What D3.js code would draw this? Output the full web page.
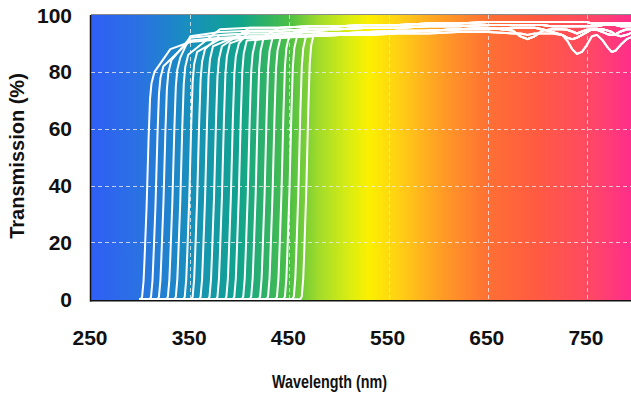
<!DOCTYPE html>
<html>
<head>
<meta charset="utf-8">
<script src="https://cdn.jsdelivr.net/npm/d3@7"></script>
<style>
  body { margin: 0; background: #fff; }
  svg { display: block; font-family: "Liberation Sans", Arial, sans-serif; }
</style>
</head>
<body>
<svg id="chart" width="631" height="395"></svg>
<script>
// axis ticks
const xTicks = [250, 350, 450, 550, 650, 750];
const yTicks = [0, 20, 40, 60, 80, 100];
const gridX = [350, 450, 550, 650, 750];
const gridY = [20, 40, 60, 80];

// spectrum background (wavelength -> colour)
const bgWavelengths = [250, 300, 350, 400, 450, 480, 510, 530, 560, 600, 650, 700, 750, 800];
const bgColors = ['#2f5ff5', '#2a72e2', '#1790bc', '#10a48c', '#4cbf44', '#a2dc2a', '#d9ed12', '#fbf000',
  '#ffd014', '#ffa024', '#ff7034', '#ff5a42', '#ff4a62', '#ff2a90'];

// 50% cut-on wavelength of each long-pass filter (nm)
const cutOn = [307, 316, 324, 333, 341, 350, 358, 366, 375, 383, 392, 400, 409, 417, 426, 434, 443, 451, 460, 468];
// transmission reached just after the edge (%)
const shoulder = [80, 82, 84, 85, 86, 87, 88, 89, 89, 90, 90, 91, 91, 92, 92, 92, 93, 93, 93, 94];
// which plateau trace each filter follows
const profileOf = [4, 3, 2, 1, 0, 4, 2, 1, 0, 3, 1, 4, 0, 2, 1, 0, 4, 1, 2, 0];

// shape of the steep edge: offset from cut-on (nm) and fraction of shoulder
const scanStart = 299;
const edgeOffset = [-7, -5.5, -4, -3, -1, 1, 2.5, 4, 7];
const edgeLevel = [0, 0.01, 0.08, 0.18, 0.4, 0.7, 0.88, 0.95, 1];

// plateau traces (%)
const plateauX = [330, 350, 380, 410, 440, 470, 500, 530, 560, 590, 620, 650, 675, 683, 690, 697, 705, 715,
  725, 730, 735, 740, 745, 750, 755, 760, 766, 771, 775, 779, 784, 790, 800];
const plateau = [
  [92, 93.5, 95, 95.5, 95.5, 96, 96, 96.5, 96.5, 97, 97, 97.5,
    97.5, 97.5, 97.5, 97.5, 97.5, 97.5, 97.5, 97.5, 97.5, 97.5, 97.5, 97.5, 97, 97, 97, 97, 97, 97, 97, 97, 97],
  [91, 92.5, 94, 94.5, 94.5, 95, 95, 95.5, 95.5, 96, 96, 96.5,
    96.5, 96.5, 96.5, 96.5, 96.5, 96, 96, 96, 96, 96, 96, 96, 96, 96, 96.5, 96.5, 96.5, 96.5, 96, 96, 96],
  [90, 92, 93, 93.5, 93.5, 94, 93.5, 94, 94.5, 94.5, 95, 95.5,
    94.5, 92.5, 91.5, 92.5, 94.5, 95, 95, 94.8, 94.2, 93.5, 94.2, 94.8, 95, 94.8, 94, 93.2, 93, 93.3, 94.2, 95, 95],
  [89, 91, 92, 92.5, 92.5, 93, 93, 93, 93.5, 93.5, 94, 94,
    93.5, 93.5, 93, 93.5, 93.5, 93.5, 93, 91, 88, 86.3, 87, 89.5, 92.5, 93, 91, 88.5, 87, 87.5, 89.5, 91.5, 93],
  [88, 90.5, 91.5, 92, 92, 92.5, 93, 93.5, 94, 94.5, 95, 95,
    95.5, 95.5, 95.5, 95.5, 95, 94, 93, 92, 91.5, 92, 93, 94, 95, 95, 95, 94.5, 94, 93, 92.5, 93, 94.5]
];

const plotLeft = 91, plotRight = 631, plotTop = 15, plotBottom = 300;

const svg = d3.select('#chart');
const x = d3.scaleLinear().domain([250, 794.4]).range([plotLeft, plotRight]);
const y = d3.scaleLinear().domain([0, 100]).range([plotBottom - 0.8, plotTop]);

// background gradient
const defs = svg.append('defs');
const grad = defs.append('linearGradient')
  .attr('id', 'spectrum')
  .attr('gradientUnits', 'userSpaceOnUse')
  .attr('x1', x(250)).attr('x2', x(800))
  .attr('y1', 0).attr('y2', 0);
bgWavelengths.forEach((w, i) => {
  grad.append('stop')
    .attr('offset', (w - 250) / 550)
    .attr('stop-color', bgColors[i]);
});
defs.append('clipPath').attr('id', 'plot-clip')
  .append('rect')
  .attr('x', plotLeft).attr('y', plotTop - 2)
  .attr('width', plotRight - plotLeft).attr('height', plotBottom - plotTop + 2);

svg.append('rect')
  .attr('x', plotLeft).attr('y', plotTop)
  .attr('width', plotRight - plotLeft).attr('height', plotBottom - plotTop)
  .attr('fill', 'url(#spectrum)');

// dashed grid
const grid = svg.append('g')
  .attr('stroke', 'rgba(235,235,235,0.8)')
  .attr('stroke-width', 1)
  .attr('stroke-dasharray', '4,3');
grid.selectAll('.gx').data(gridX).enter().append('line')
  .attr('x1', d => Math.round(x(d)) + 0.5).attr('x2', d => Math.round(x(d)) + 0.5)
  .attr('y1', plotTop).attr('y2', plotBottom);
grid.selectAll('.gy').data(gridY).enter().append('line')
  .attr('x1', plotLeft).attr('x2', plotRight)
  .attr('y1', d => Math.round(y(d)) + 0.5).attr('y2', d => Math.round(y(d)) + 0.5);

// build each filter curve from the read values
const curves = cutOn.map((c, i) => {
  const pts = [[scanStart, 0]];
  edgeOffset.forEach((o, k) => {
    const w = c + o;
    if (w > scanStart) pts.push([w, shoulder[i] * edgeLevel[k]]);
  });
  const p = plateau[profileOf[i]];
  plateauX.forEach((w, k) => {
    if (w > c + 14) pts.push([w, p[k]]);
  });
  return pts;
});

const line = d3.line()
  .x(d => x(d[0]))
  .y(d => y(d[1]));

svg.append('g')
  .attr('clip-path', 'url(#plot-clip)')
  .selectAll('path')
  .data(curves)
  .enter().append('path')
  .attr('d', line)
  .attr('fill', 'none')
  .attr('stroke', '#ffffff')
  .attr('stroke-width', 2)
  .attr('stroke-linejoin', 'round');

// frame
svg.append('line')
  .attr('x1', plotLeft).attr('x2', plotRight)
  .attr('y1', plotTop - 0.5).attr('y2', plotTop - 0.5)
  .attr('stroke', '#8a8a8a').attr('stroke-width', 1);
svg.append('line')
  .attr('x1', plotLeft - 0.5).attr('x2', plotLeft - 0.5)
  .attr('y1', plotTop).attr('y2', plotBottom + 1.5)
  .attr('stroke', '#111').attr('stroke-width', 1.5);
svg.append('line')
  .attr('x1', plotLeft - 1).attr('x2', plotRight)
  .attr('y1', plotBottom + 0.75).attr('y2', plotBottom + 0.75)
  .attr('stroke', '#111').attr('stroke-width', 1.5);

// tick labels
svg.append('g').selectAll('text').data(yTicks).enter().append('text')
  .attr('x', 72)
  .attr('y', d => y(d))
  .attr('dy', '0.36em')
  .attr('text-anchor', 'end')
  .attr('font-size', 21)
  .attr('font-weight', 'bold')
  .attr('fill', '#111')
  .text(d => d);

svg.append('g').selectAll('text').data(xTicks).enter().append('text')
  .attr('x', d => x(d) - 1)
  .attr('y', 345)
  .attr('text-anchor', 'middle')
  .attr('font-size', 21)
  .attr('font-weight', 'bold')
  .attr('fill', '#111')
  .text(d => d);

// axis titles
svg.append('text')
  .attr('transform', 'translate(24,156) rotate(-90)')
  .attr('text-anchor', 'middle')
  .attr('font-size', 20)
  .attr('font-weight', 'bold')
  .attr('fill', '#111')
  .text('Transmission (%)');

svg.append('text')
  .attr('x', 272)
  .attr('y', 388)
  .attr('textLength', 115)
  .attr('lengthAdjust', 'spacingAndGlyphs')
  .attr('font-size', 19)
  .attr('font-weight', 'bold')
  .attr('fill', '#111')
  .text('Wavelength (nm)');
</script>
</body>
</html>
